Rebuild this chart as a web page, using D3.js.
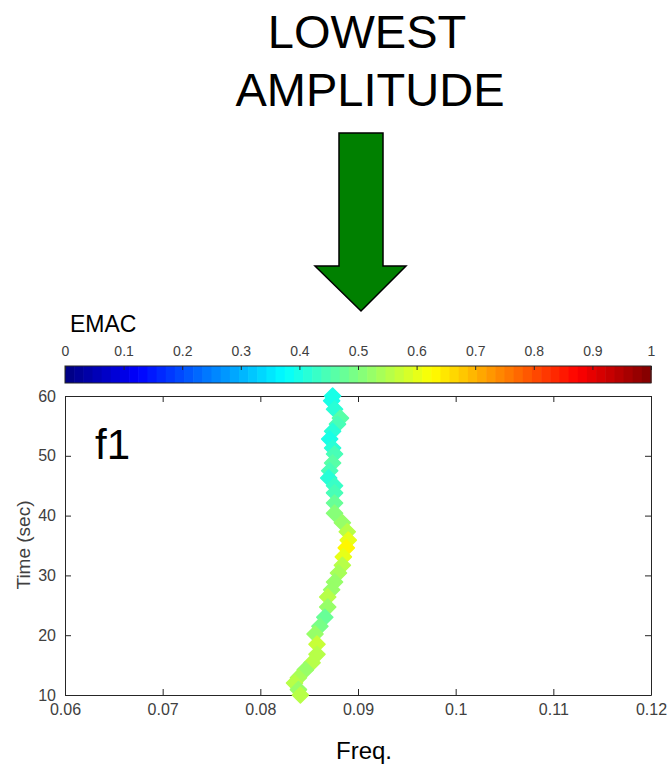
<!DOCTYPE html>
<html>
<head>
<meta charset="utf-8">
<script src="https://cdn.jsdelivr.net/npm/d3@7"></script>
<style>
  html, body { margin: 0; padding: 0; background: #fff; }
  svg { display: block; font-family: "Liberation Sans", Arial, sans-serif; }
</style>
</head>
<body>
<svg id="chart" width="667" height="764"></svg>
<script>
// Ridge trace: time (s), frequency and EMAC value of each tracked point
const timeSec = [60.0, 59.2, 57.8, 56.3, 55.3, 54.1, 52.8, 51.3, 50.3, 48.8,
                 47.5, 46.3, 45.0, 43.8, 42.1, 40.4, 38.8, 37.3, 35.9, 34.6,
                 33.1, 31.7, 30.4, 28.9, 27.6, 26.4, 24.7, 23.0, 21.5, 20.2,
                 18.5, 16.8, 15.4, 14.2, 12.9, 12.0, 10.9, 10.0];
const freq = [0.0874, 0.0873, 0.0876, 0.0882, 0.0879, 0.0874, 0.0871, 0.0874, 0.0876, 0.0874,
              0.0871, 0.0870, 0.0876, 0.0876, 0.0876, 0.0876, 0.0884, 0.0889, 0.0890, 0.0888,
              0.0885, 0.0884, 0.0880, 0.0876, 0.0873, 0.0869, 0.0869, 0.0866, 0.0861, 0.0856,
              0.0858, 0.0858, 0.0853, 0.0846, 0.0839, 0.0835, 0.0839, 0.0841];
const emac = [0.40, 0.40, 0.42, 0.46, 0.45, 0.41, 0.40, 0.41, 0.45, 0.46,
              0.45, 0.42, 0.43, 0.44, 0.47, 0.50, 0.53, 0.55, 0.60, 0.63,
              0.60, 0.56, 0.54, 0.52, 0.53, 0.55, 0.53, 0.48, 0.49, 0.53,
              0.57, 0.55, 0.55, 0.53, 0.54, 0.55, 0.52, 0.55];

const xTicks = [0.06, 0.07, 0.08, 0.09, 0.1, 0.11, 0.12];
const yTicks = [10, 20, 30, 40, 50, 60];
const cbTicks = [0, 0.1, 0.2, 0.3, 0.4, 0.5, 0.6, 0.7, 0.8, 0.9, 1];

// MATLAB-style jet colormap, 64 levels
const nLevels = 64;
function jet(v) {
  const c = t => Math.max(0, Math.min(1, t));
  return d3.rgb(255 * c(1.5 - Math.abs(4 * v - 3)),
                255 * c(1.5 - Math.abs(4 * v - 2)),
                255 * c(1.5 - Math.abs(4 * v - 1))) + "";
}
const levelColor = v => {
  const k = Math.min(nLevels - 1, Math.floor(v * nLevels));
  return jet((k + 0.5) / nLevels);
};

const svg = d3.select("#chart");
const plot = { left: 65, right: 651, top: 396, bottom: 695 };
const x = d3.scaleLinear().domain([0.06, 0.12]).range([plot.left, plot.right]);
const y = d3.scaleLinear().domain([10, 60]).range([plot.bottom, plot.top]);
const tickColor = "#262626";
const labelColor = "#404040";
const fmt = d => d3.format("~g")(d);

// Heading
svg.append("text").attr("x", 367).attr("y", 48).attr("text-anchor", "middle")
  .attr("font-size", 47).attr("fill", "#000").text("LOWEST");
svg.append("text").attr("x", 370).attr("y", 106).attr("text-anchor", "middle")
  .attr("font-size", 47).attr("fill", "#000").text("AMPLITUDE");

// Down arrow
const arrow = [[339, 133], [383, 133], [383, 266], [406, 266], [361, 311], [315, 266], [339, 266]];
svg.append("path").attr("d", d3.line()(arrow) + "Z")
  .attr("fill", "#008000").attr("stroke", "#000").attr("stroke-width", 1.5)
  .attr("stroke-linejoin", "miter");

// Colorbar
const cb = { top: 366, bottom: 383 };
const cx = d3.scaleLinear().domain([0, 1]).range([plot.left, plot.right]);
const bands = d3.range(nLevels);
svg.append("g").selectAll("rect").data(bands).join("rect")
  .attr("x", k => cx(k / nLevels))
  .attr("width", k => cx((k + 1) / nLevels) - cx(k / nLevels) + 0.6)
  .attr("y", cb.top).attr("height", cb.bottom - cb.top)
  .attr("fill", k => jet((k + 0.5) / nLevels));
svg.append("rect").attr("x", cx(0)).attr("y", cb.top)
  .attr("width", cx(1) - cx(0)).attr("height", cb.bottom - cb.top)
  .attr("fill", "none").attr("stroke", tickColor).attr("stroke-width", 1);
const cbAxis = svg.append("g").attr("transform", `translate(0,${cb.top})`)
  .call(d3.axisTop(cx).tickValues(cbTicks).tickFormat(fmt).tickSizeInner(-4).tickSizeOuter(0).tickPadding(10));
cbAxis.select(".domain").remove();
cbAxis.selectAll("line").attr("stroke", tickColor);
cbAxis.selectAll("text").attr("fill", labelColor).attr("font-size", 14)
  .attr("font-family", "Liberation Sans, Arial, sans-serif");
svg.append("text").attr("x", 70).attr("y", 332).attr("font-size", 23).attr("fill", "#000").text("EMAC");

// Axes with inward ticks on all four sides
function styleAxis(g, showLabels) {
  g.select(".domain").attr("stroke", tickColor);
  g.selectAll("line").attr("stroke", tickColor);
  g.selectAll("text").attr("fill", labelColor).attr("font-size", 16)
    .attr("font-family", "Liberation Sans, Arial, sans-serif");
  if (!showLabels) g.selectAll("text").remove();
}
svg.append("g").attr("transform", `translate(0,${plot.bottom})`)
  .call(d3.axisBottom(x).tickValues(xTicks).tickFormat(fmt).tickSizeInner(-6).tickSizeOuter(0).tickPadding(9))
  .call(g => styleAxis(g, true));
svg.append("g").attr("transform", `translate(0,${plot.top})`)
  .call(d3.axisTop(x).tickValues(xTicks).tickSizeInner(-6).tickSizeOuter(0))
  .call(g => styleAxis(g, false));
svg.append("g").attr("transform", `translate(${plot.left},0)`)
  .call(d3.axisLeft(y).tickValues(yTicks).tickSizeInner(-6).tickSizeOuter(0).tickPadding(9))
  .call(g => styleAxis(g, true));
svg.append("g").attr("transform", `translate(${plot.right},0)`)
  .call(d3.axisRight(y).tickValues(yTicks).tickSizeInner(-6).tickSizeOuter(0))
  .call(g => styleAxis(g, false));

// Ridge markers (rotated squares)
const pts = timeSec.map((t, i) => ({ t, f: freq[i], e: emac[i] }));
svg.append("g").selectAll("path").data(pts).join("path")
  .attr("d", d3.symbol().type(d3.symbolSquare).size(130))
  .attr("transform", d => `translate(${x(d.f)},${y(d.t)}) rotate(45)`)
  .attr("fill", d => levelColor(d.e))
  .attr("stroke", d => levelColor(d.e)).attr("stroke-width", 1.5)
  .attr("stroke-linejoin", "round");

// Labels
svg.append("text").attr("x", 95).attr("y", 459).attr("font-size", 42).attr("fill", "#000").text("f1");
svg.append("text").attr("x", 364).attr("y", 759).attr("text-anchor", "middle")
  .attr("font-size", 24).attr("fill", "#000").text("Freq.");
svg.append("text").attr("transform", "translate(30,545) rotate(-90)").attr("text-anchor", "middle")
  .attr("font-size", 19).attr("fill", labelColor).text("Time (sec)");
</script>
</body>
</html>
